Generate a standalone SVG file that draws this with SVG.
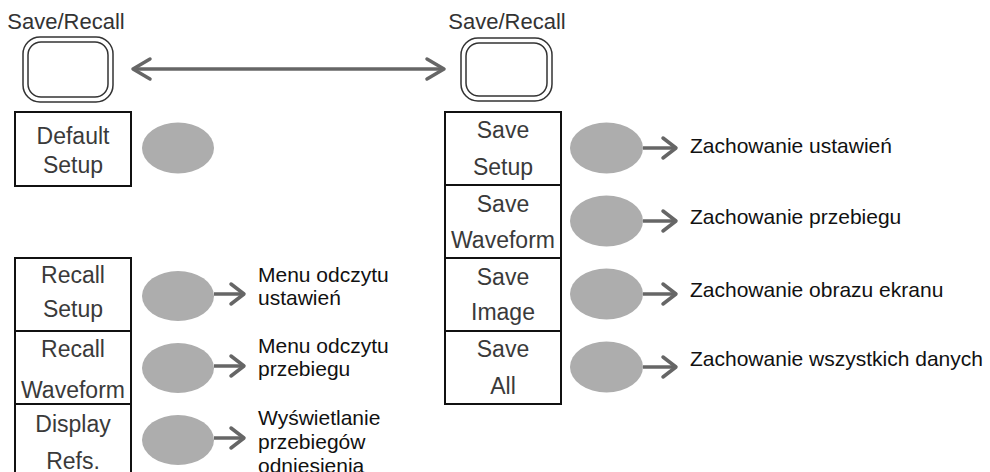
<svg xmlns="http://www.w3.org/2000/svg" width="990" height="472" viewBox="0 0 990 472">
<style>
.bg{fill:#ffffff}
.title{font-family:"Liberation Sans",Arial,sans-serif;font-size:22px;fill:#333333;text-anchor:middle}
.btn{fill:#ffffff;stroke:#333333;stroke-width:1.5}
.box{fill:#ffffff;stroke:#111111;stroke-width:2}
.lbl{font-family:"Liberation Sans",Arial,sans-serif;font-size:23px;fill:#3a3a3a;text-anchor:middle}
.knob{fill:#adadad}
.desc{font-family:"Liberation Sans",Arial,sans-serif;font-size:21px;fill:#111111}
.arr{fill:none;stroke:#666666;stroke-width:3.5}
</style>
<defs>
<marker id="head" markerUnits="userSpaceOnUse" markerWidth="18" markerHeight="24" refX="15" refY="12" orient="auto" overflow="visible">
<path d="M2,2 L15,12 L2,22" fill="none" stroke="#666666" stroke-width="3.5" stroke-linejoin="round" stroke-linecap="round"/>
</marker>
<marker id="bighead" markerUnits="userSpaceOnUse" markerWidth="22" markerHeight="24" refX="19" refY="12" orient="auto-start-reverse" overflow="visible">
<path d="M2,2 L19,12 L2,22" fill="none" stroke="#666666" stroke-width="3.5" stroke-linejoin="round" stroke-linecap="round"/>
</marker>
</defs>
<rect class="bg" x="0" y="0" width="990" height="472"/>

<g id="left-button">
<text class="title" x="66" y="29">Save/Recall</text>
<rect class="btn" x="23" y="37" width="90" height="65" rx="17"/>
<rect class="btn" x="28" y="42" width="80" height="55" rx="13"/>
</g>
<g id="right-button">
<text class="title" x="507" y="29">Save/Recall</text>
<rect class="btn" x="461" y="38" width="91" height="63" rx="17"/>
<rect class="btn" x="466" y="43" width="81" height="53" rx="13"/>
</g>

<g id="default-setup">
<rect class="box" x="15" y="112" width="116" height="74"/>
<text class="lbl" x="73" y="144">Default</text>
<text class="lbl" x="73" y="173">Setup</text>
<ellipse class="knob" cx="178" cy="148" rx="36" ry="25.5"/>
</g>

<g id="recall-setup">
<rect class="box" x="15" y="258" width="116" height="73"/>
<text class="lbl" x="73" y="283">Recall</text>
<text class="lbl" x="73" y="317">Setup</text>
<ellipse class="knob" cx="178" cy="296" rx="36" ry="25"/>
<text class="desc" x="258" y="282">Menu odczytu</text>
<text class="desc" x="258" y="305">ustawień</text>
</g>
<g id="recall-waveform">
<rect class="box" x="15" y="331" width="116" height="73"/>
<text class="lbl" x="73" y="357">Recall</text>
<text class="lbl" x="73" y="398">Waveform</text>
<ellipse class="knob" cx="178" cy="368" rx="36" ry="25"/>
<text class="desc" x="258" y="353">Menu odczytu</text>
<text class="desc" x="258" y="376">przebiegu</text>
</g>
<g id="display-refs">
<rect class="box" x="15" y="404" width="116" height="80"/>
<text class="lbl" x="73" y="432">Display</text>
<text class="lbl" x="73" y="469">Refs.</text>
<ellipse class="knob" cx="178" cy="440" rx="36" ry="25"/>
<text class="desc" x="258" y="425">Wyświetlanie</text>
<text class="desc" x="258" y="449">przebiegów</text>
<text class="desc" x="258" y="473">odniesienia</text>
</g>

<g id="save-setup">
<rect class="box" x="445" y="112" width="116" height="73"/>
<text class="lbl" x="503" y="138">Save</text>
<text class="lbl" x="503" y="175">Setup</text>
<ellipse class="knob" cx="606.5" cy="148" rx="36.5" ry="25.5"/>
<text class="desc" x="690" y="153">Zachowanie ustawień</text>
</g>
<g id="save-waveform">
<rect class="box" x="445" y="185" width="116" height="73"/>
<text class="lbl" x="503" y="212">Save</text>
<text class="lbl" x="503" y="248">Waveform</text>
<ellipse class="knob" cx="606.5" cy="221" rx="36.5" ry="25.5"/>
<text class="desc" x="690" y="224">Zachowanie przebiegu</text>
</g>
<g id="save-image">
<rect class="box" x="445" y="258" width="116" height="73"/>
<text class="lbl" x="503" y="285">Save</text>
<text class="lbl" x="503" y="320">Image</text>
<ellipse class="knob" cx="606.5" cy="294" rx="36.5" ry="25.5"/>
<text class="desc" x="690" y="297">Zachowanie obrazu ekranu</text>
</g>
<g id="save-all">
<rect class="box" x="445" y="331" width="116" height="73"/>
<text class="lbl" x="503" y="357">Save</text>
<text class="lbl" x="503" y="394">All</text>
<ellipse class="knob" cx="606.5" cy="367" rx="36.5" ry="25.5"/>
<text class="desc" x="690" y="366">Zachowanie wszystkich danych</text>
</g>

<g id="connectors">
<line class="arr" x1="133" y1="69" x2="444" y2="69" marker-start="url(#bighead)" marker-end="url(#bighead)"/>
<line class="arr" x1="214" y1="294" x2="244" y2="294" marker-end="url(#head)"/>
<line class="arr" x1="214" y1="366" x2="244" y2="366" marker-end="url(#head)"/>
<line class="arr" x1="214" y1="438" x2="244" y2="438" marker-end="url(#head)"/>
<line class="arr" x1="643" y1="148" x2="676" y2="148" marker-end="url(#head)"/>
<line class="arr" x1="643" y1="221" x2="676" y2="221" marker-end="url(#head)"/>
<line class="arr" x1="643" y1="294" x2="676" y2="294" marker-end="url(#head)"/>
<line class="arr" x1="643" y1="367" x2="676" y2="367" marker-end="url(#head)"/>
</g>
</svg>
